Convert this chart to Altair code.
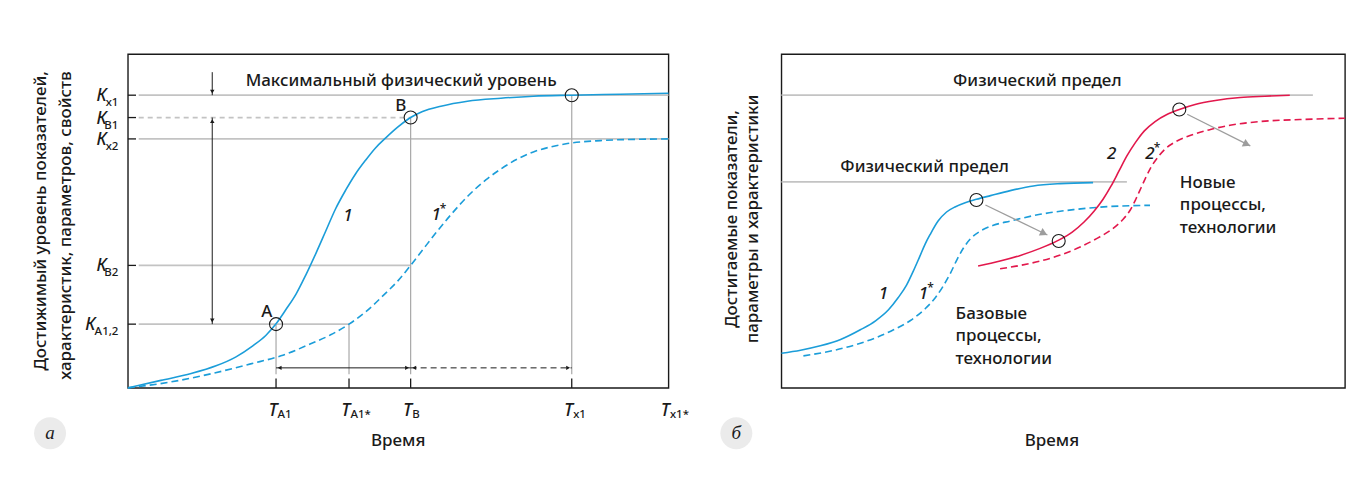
import altair as alt
import pandas as pd

FONT = "Noto Sans"
INK = "#1a1a1a"
BLUE = "#1b9dd9"
RED = "#e2184c"
GRID = "#c3c3c3"
VGRID = "#a8a8a8"
ARROW_GRAY = "#9d9d9d"
BADGE = "#ebebeb"
FW = 500

# ---------------- panel а ----------------
title_a = "Максимальный физический уровень"
ytitle_a = ["Достижимый уровень показателей,", "характеристик, параметров, свойств"]
xtitle = "Время"

t_sub = ["А1", "А1*", "В", "х1", "х1*"]
t_val = [27.4, 40.9, 52.3, 82.1, 100.0]
k_sub = ["х1", "В1", "х2", "В2", "А1,2"]
k_val = [87.7, 81.0, 74.6, 36.7, 19.1]
k_end = [100.0, 52.3, 100.0, 52.3, 40.9]

c1_x = [0, 6.1, 11.7, 16.3, 20.0, 23.1, 25.5, 27.4, 29.2, 31.1, 32.9, 34.8, 36.6, 38.4, 40.3, 42.1, 44.0,
        45.8, 47.7, 49.9, 52.3, 54.5, 57.9, 62.8, 69.0, 75.0, 82.1, 91.1, 100]
c1_y = [0, 2.25, 4.3, 6.6, 9.3, 12.6, 15.7, 19.2, 23.4, 28.1, 33.8, 40.4, 47.0, 53.6, 59.3, 64.1, 68.3,
        71.9, 74.9, 78.1, 81.0, 82.8, 84.4, 85.9, 86.8, 87.4, 87.7, 88.0, 88.3]
c1s_x = [0, 8.0, 15.3, 22.7, 28.3, 33.8, 37.5, 40.9, 44.0, 47.3, 49.9, 52.3, 54.5, 56.9, 59.7, 62.9,
         66.2, 69.0, 72.1, 75.0, 78.2, 81.3, 87.4, 94.8, 100]
c1s_y = [0, 1.8, 4.2, 7.2, 9.6, 13.2, 15.9, 19.1, 22.8, 27.8, 32.0, 36.7, 41.3, 46.3, 51.8, 57.5,
         62.3, 65.6, 68.6, 70.7, 72.2, 73.2, 74.1, 74.5, 74.6]

pa_lbl = ["А", "В", ""]
pa_x = [27.4, 52.3, 82.1]
pa_y = [19.1, 81.0, 87.7]

# ---------------- panel б ----------------
limit_lbl = ["Физический предел", "Физический предел"]
limit_y = [87.7, 61.7]
limit_end = [94.3, 61.3]
ytitle_b = ["Достигаемые показатели,", "параметры и характеристики"]
base_txt = ["Базовые", "процессы,", "технологии"]
new_txt = ["Новые", "процессы,", "технологии"]

b1_x = [0, 3.4, 6.9, 10.5, 14.0, 16.7, 19.0, 20.7, 22.2, 23.4, 24.5, 25.5, 26.4, 27.8, 29.3, 30.9,
        32.6, 34.6, 37.1, 40.6, 44.7, 49.5, 55.3]
b1_y = [10.4, 11.3, 12.6, 14.5, 17.4, 20.1, 23.4, 27.0, 30.8, 35.0, 39.2, 43.1, 46.0, 50.0, 52.7, 54.3,
        55.5, 56.5, 57.6, 59.1, 60.5, 61.2, 61.5]
b1s_x = [3.9, 9.2, 13.1, 16.7, 19.9, 22.9, 25.5, 27.3, 28.7, 30.0, 31.2, 32.3, 33.5, 35.3, 37.6, 40.6,
         45.9, 51.8, 57.8, 65.4]
b1s_y = [9.6, 11.2, 12.9, 15.0, 17.4, 20.2, 23.7, 27.0, 30.5, 34.4, 38.6, 41.9, 44.6, 47.0, 48.7, 50.0,
         52.0, 53.4, 54.3, 54.7]
r2_x = [34.9, 38.8, 42.4, 45.9, 49.1, 51.6, 53.7, 55.5, 57.1, 58.5, 59.9, 61.3, 62.8, 64.4, 66.3, 68.4,
        70.6, 73.4, 77.0, 81.4, 85.8, 90.2]
r2_y = [36.5, 38.0, 39.7, 41.8, 44.2, 46.7, 49.7, 53.0, 56.6, 60.5, 65.0, 69.5, 73.5, 77.0, 79.8, 81.9,
        83.4, 84.9, 86.1, 87.0, 87.4, 87.7]
r2s_x = [38.8, 42.4, 45.9, 49.5, 53.0, 56.0, 58.7, 60.5, 61.9, 62.9, 63.8, 64.7, 65.6, 66.7, 68.1, 69.9,
         72.5, 76.1, 79.6, 84.9, 92.0, 100]
r2s_y = [35.7, 36.7, 38.0, 39.8, 42.2, 44.8, 47.6, 50.3, 53.3, 56.6, 59.9, 63.2, 66.2, 68.9, 71.6, 73.7,
         75.6, 77.4, 78.7, 79.8, 80.4, 80.8]

pb_x = [34.6, 49.2, 70.6]
pb_y = [56.3, 44.0, 83.4]
arr_x0 = [36.2, 72.0]
arr_y0 = [54.8, 82.0]
arr_x1 = [47.2, 83.2]
arr_y1 = [45.8, 72.5]


def sc():
    return alt.Scale(domain=[0, 100], nice=False, zero=False)


SXA, SXB, SY = sc(), sc(), sc()


def fx(f, s):
    return alt.X(f, type="quantitative", scale=s, axis=None)


def fy(f):
    return alt.Y(f, type="quantitative", scale=SY, axis=None)


def note(text, x, y, s, size=17, style="normal", align="center", baseline="alphabetic",
         angle=0, font=FONT, dx=0, dy=0, color=INK, lh=None, weight=FW):
    kw = dict(text=text, fontSize=size, fontStyle=style, align=align, baseline=baseline,
              angle=angle, font=font, dx=dx, dy=dy, color=color, fontWeight=weight)
    if lh:
        kw["lineHeight"] = lh
    df = pd.DataFrame({"x": [x], "y": [y]})
    return alt.Chart(df).mark_text(**kw).encode(x=fx("x", s), y=fy("y"))


def seg(x0, y0, x1, y1, s, color=INK, width=1.0, dash=None):
    df = pd.DataFrame({"x0": x0, "y0": y0, "x1": x1, "y1": y1})
    kw = dict(color=color, strokeWidth=width)
    if dash:
        kw["strokeDash"] = dash
    return alt.Chart(df).mark_rule(**kw).encode(
        x=fx("x0", s), y=fy("y0"), x2=alt.X2("x1:Q"), y2=alt.Y2("y1:Q"))


def curve(xs, ys, s, color, dash=None):
    df = pd.DataFrame({"x": xs, "y": ys})
    kw = dict(color=color, strokeWidth=1.6, interpolate="monotone")
    if dash:
        kw["strokeDash"] = dash
    return alt.Chart(df).mark_line(**kw).encode(x=fx("x", s), y=fy("y"))


def head(xs, ys, s, shape, xo=0, yo=0, size=20, color=INK, angle=0):
    df = pd.DataFrame({"x": xs, "y": ys})
    return alt.Chart(df).mark_point(shape=shape, filled=True, size=size, color=color, opacity=1,
                                    xOffset=xo, yOffset=yo, angle=angle, strokeWidth=0).encode(
        x=fx("x", s), y=fy("y"))


def rings(xs, ys, s):
    df = pd.DataFrame({"x": xs, "y": ys})
    return alt.Chart(df).mark_point(shape="circle", filled=False, size=169, color=INK, opacity=1,
                                    strokeWidth=1.1).encode(x=fx("x", s), y=fy("y"))


def badge(x, y, s):
    df = pd.DataFrame({"x": [x], "y": [y]})
    return alt.Chart(df).mark_point(shape="circle", filled=True, size=1024, color=BADGE, opacity=1,
                                    strokeWidth=0).encode(x=fx("x", s), y=fy("y"))


# ---------- build panel а ----------
# invisible frame that fixes the overall canvas extent
bg = alt.Chart(pd.DataFrame({"k": [0]})).mark_rect(fill="white", opacity=0).encode(
    x=alt.value(-119), x2=alt.value(1220), y=alt.value(-45), y2=alt.value(417))

kdf = pd.DataFrame({"k": k_val, "sub": k_sub})
tdf = pd.DataFrame({"t": t_val, "sub": t_sub})

solid_idx = [0, 2, 3, 4]
lev_solid = seg([2.0] * 4, [k_val[i] for i in solid_idx], [k_end[i] for i in solid_idx],
                [k_val[i] for i in solid_idx], SXA, color=GRID, width=1.8)
lev_dash = seg([2.0], [k_val[1]], [k_end[1]], [k_val[1]], SXA, color=GRID, width=1.8, dash=[5, 4])
v_tops = [k_val[4], k_val[4], k_val[1], k_val[0]]
vert = seg(t_val[:4], [4.1] * 4, t_val[:4], v_tops, SXA, color=VGRID, width=1.2)
ktick = seg([0] * 5, k_val, [1.5] * 5, k_val, SXA, width=1.3)
ttick = seg(t_val[:4], [0] * 4, t_val[:4], [2.8] * 4, SXA, width=1.3)

ar_y = 6.0
harr_solid = seg([t_val[0]], [ar_y], [t_val[2]], [ar_y], SXA)
harr_dash = seg([t_val[2]], [ar_y], [t_val[3]], [ar_y], SXA, dash=[6, 4])
varr = seg([15.6, 15.6], [94.6, k_val[1]], [15.6, 15.6], [k_val[0], k_val[4]], SXA)

heads_a = [
    head([t_val[0], t_val[2]], [ar_y, ar_y], SXA, "triangle-left", xo=3.6),
    head([t_val[2], t_val[3]], [ar_y, ar_y], SXA, "triangle-right", xo=-3.6),
    head([15.6, 15.6], [k_val[0], k_val[4]], SXA, "triangle-down", yo=-3.6),
    head([15.6], [k_val[1]], SXA, "triangle-up", yo=3.6),
]

ksub_layer = alt.Chart(kdf).mark_text(align="right", baseline="alphabetic", fontSize=11.5, font=FONT,
                                      fontWeight=FW, color=INK, dy=11).encode(
    x=alt.value(-9.5), y=fy("k"), text="sub:N")
kmain_layer = alt.Chart(kdf).transform_calculate(
    kx="(-10 - 5.6*length(datum.sub)) / 5.41").mark_text(
    text="К", align="right", baseline="alphabetic", fontSize=17.5, fontStyle="italic", font=FONT,
    fontWeight=FW, color=INK, dy=6).encode(x=fx("kx", SXA), y=fy("k"))
tdf2 = tdf.assign(y=-8.4)
tmain_layer = alt.Chart(tdf2).mark_text(text="Т", align="right", baseline="alphabetic", fontSize=17.5,
                                        fontStyle="italic", font=FONT, fontWeight=FW, color=INK,
                                        dx=1.5).encode(x=fx("t", SXA), y=fy("y"))
tsub_layer = alt.Chart(tdf2).mark_text(align="left", baseline="alphabetic", fontSize=11.5, font=FONT,
                                       fontWeight=FW, color=INK, dx=1.5, dy=2).encode(
    x=fx("t", SXA), y=fy("y"), text="sub:N")

panel_a = alt.layer(
    bg, lev_solid, lev_dash, vert, ktick, ttick,
    curve(c1s_x, c1s_y, SXA, BLUE, [7, 4]),
    curve(c1_x, c1_y, SXA, BLUE),
    harr_solid, harr_dash, varr, *heads_a,
    rings(pa_x, pa_y, SXA),
    note(title_a, 50.55, 90.4, SXA),
    note(pa_lbl[0], 25.7, 22.6, SXA, baseline="middle"),
    note(pa_lbl[1], 50.5, 84.4, SXA, baseline="middle"),
    note("1", 40.7, 51.6, SXA, style="italic", baseline="middle"),
    note("1", 57.0, 51.8, SXA, style="italic", baseline="middle"),
    note("*", 57.0, 51.8, SXA, size=12, baseline="middle", dx=7, dy=-6),
    kmain_layer, ksub_layer, tmain_layer, tsub_layer,
    note(xtitle, 50.0, -17.4, SXA),
    note(ytitle_a[0], -16.0, 94.9, SXA, angle=270, align="right", baseline="middle"),
    note(ytitle_a[1], -11.5, 94.9, SXA, angle=270, align="right", baseline="middle"),
    badge(-14.4, -13.6, SXA),
    note("а", -14.4, -13.6, SXA, size=19, style="italic", font="Liberation Serif", baseline="middle",
         weight="normal"),
).properties(width=541, height=334)

# ---------- build panel б ----------
limits = seg([0, 0], limit_y, limit_end, limit_y, SXB, color=GRID, width=1.8)
arrows = seg(arr_x0, arr_y0, arr_x1, arr_y1, SXB, color=ARROW_GRAY, width=1.3)
arrow_heads = head(arr_x1, arr_y1, SXB, "triangle-right", xo=-3.5, yo=-1.7, size=70,
                   color=ARROW_GRAY, angle=26)

panel_b = alt.layer(
    limits,
    curve(b1s_x, b1s_y, SXB, BLUE, [7, 4]),
    curve(b1_x, b1_y, SXB, BLUE),
    curve(r2s_x, r2s_y, SXB, RED, [7, 4]),
    curve(r2_x, r2_y, SXB, RED),
    arrows, arrow_heads,
    rings(pb_x, pb_y, SXB),
    note(limit_lbl[0], 45.4, 90.4, SXB),
    note(limit_lbl[1], 25.4, 64.7, SXB),
    note("1", 18.1, 28.1, SXB, style="italic", baseline="middle"),
    note("1", 25.2, 28.1, SXB, style="italic", baseline="middle"),
    note("*", 25.2, 28.1, SXB, size=12, baseline="middle", dx=7, dy=-6),
    note("2", 58.6, 70.0, SXB, style="italic", baseline="middle"),
    note("2", 65.4, 70.0, SXB, style="italic", baseline="middle"),
    note("*", 65.4, 70.0, SXB, size=12, baseline="middle", dx=7, dy=-6),
    note(base_txt, 30.9, 20.7, SXB, align="left", lh=22.5),
    note(new_txt, 70.7, 59.9, SXB, align="left", lh=22.5),
    note(xtitle, 48.0, -17.4, SXB),
    note(ytitle_b[0], -8.7, 50.6, SXB, angle=270, baseline="middle"),
    note(ytitle_b[1], -5.0, 50.6, SXB, angle=270, baseline="middle"),
    badge(-8.0, -13.6, SXB),
    note("б", -8.0, -13.6, SXB, size=19, style="italic", font="Liberation Serif", baseline="middle",
         weight="normal"),
).properties(width=564, height=334)

chart = alt.hconcat(panel_a, panel_b, spacing=113, bounds="flush").properties(
    padding=0
).configure_view(stroke=INK, strokeWidth=1.4)

chart.save("out.html", embed_options={"renderer": "svg", "actions": False})
